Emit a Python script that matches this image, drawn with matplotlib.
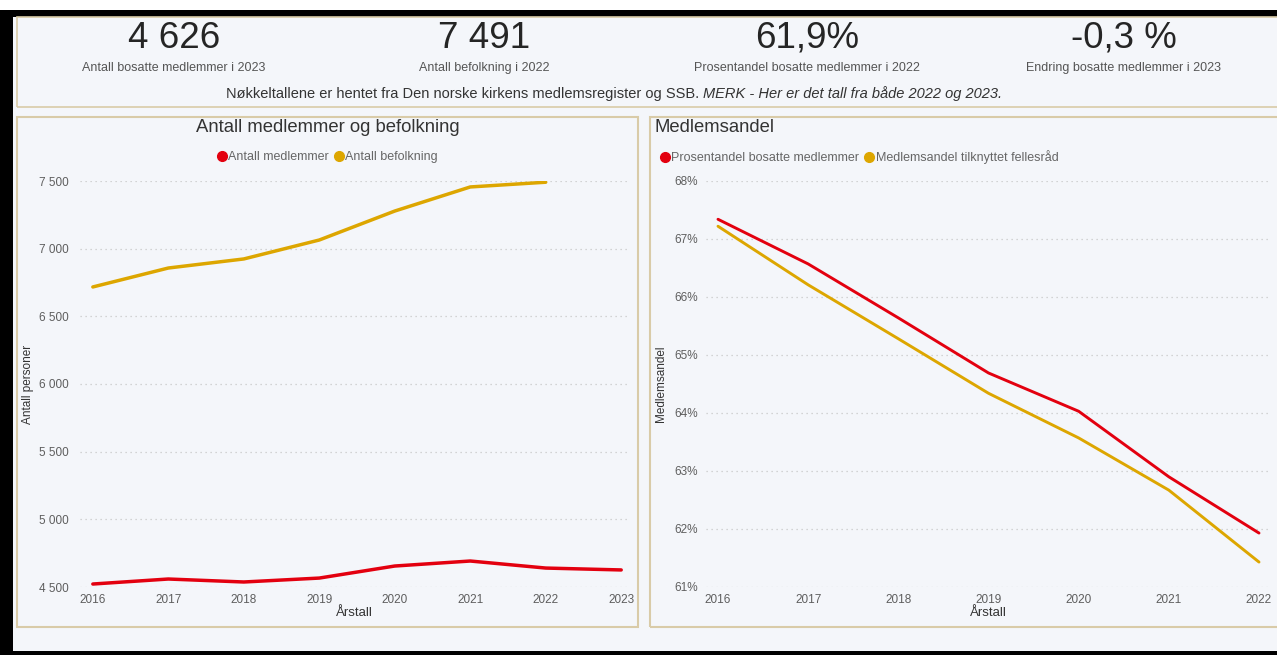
import matplotlib
matplotlib.use("Agg")
import matplotlib.pyplot as plt
from matplotlib.patches import Rectangle
from matplotlib.lines import Line2D

# ---------------- data ----------------
years_left = [2016, 2017, 2018, 2019, 2020, 2021, 2022, 2023]
medlemmer = [4522, 4559, 4537, 4566, 4655, 4692, 4640, 4626]
befolkning_years = [2016, 2017, 2018, 2019, 2020, 2021, 2022]
befolkning = [6717, 6857, 6924, 7064, 7278, 7456, 7491]
left_yticks = [4500, 5000, 5500, 6000, 6500, 7000, 7500]
left_yticklabels = ["4 500", "5 000", "5 500", "6 000", "6 500", "7 000", "7 500"]

years_right = [2016, 2017, 2018, 2019, 2020, 2021, 2022]
prosent_bosatte = [67.34, 66.57, 65.64, 64.69, 64.03, 62.90, 61.93]
andel_fellesrad = [67.22, 66.21, 65.28, 64.34, 63.57, 62.67, 61.43]
right_yticks = [61, 62, 63, 64, 65, 66, 67, 68]
right_yticklabels = ["61%", "62%", "63%", "64%", "65%", "66%", "67%", "68%"]

kpi_values = ["4 626", "7 491", "61,9%", "-0,3 %"]
kpi_labels = ["Antall bosatte medlemmer i 2023", "Antall befolkning i 2022",
              "Prosentandel bosatte medlemmer i 2022", "Endring bosatte medlemmer i 2023"]

# ---------------- style ----------------
W, H = 1277, 655
BG = "#F4F6FA"
RED = "#E3000F"
YEL = "#DDA600"
BORDER = "#D9CBA8"
TICK = "#5E5E5E"
DARK = "#333333"
plt.rcParams['font.family'] = ['Liberation Sans', 'DejaVu Sans']

fig = plt.figure(figsize=(W / 100, H / 100), dpi=100)
fig.patch.set_facecolor("white")


def fx(px):
    return px / W


def fy(py):
    return 1 - py / H


def rect(x0, y0, x1, y1, fc="none", ec="none", lw=1.0, z=0):
    fig.add_artist(Rectangle((fx(x0), fy(y1)), fx(x1) - fx(x0), (y1 - y0) / H,
                             transform=fig.transFigure, facecolor=fc, edgecolor=ec,
                             linewidth=lw, zorder=z))


# background and black frame
rect(0, 10, W, H, fc=BG)
rect(0, 10, W, 17, fc="black", z=1)
rect(0, 10, 13, H, fc="black", z=1)
rect(0, 651, W, H, fc="black", z=1)

# panels
rect(17, 17, 1290, 107, ec=BORDER, lw=1.2, z=2)
rect(17, 117, 638, 627, ec=BORDER, lw=1.5, z=2)
rect(650, 117, 1290, 627, ec=BORDER, lw=1.5, z=2)

# KPI cards
kpi_x = [174, 484, 807, 1124]
for x, v, lab in zip(kpi_x, kpi_values, kpi_labels):
    fig.text(fx(x), fy(38), v, ha="center", va="center", fontsize=26.5,
             color="#252525")
    fig.text(fx(x), fy(68), lab, ha="center", va="center", fontsize=9, color="#555555")

# subtitle with italic part
t1 = fig.text(fx(226), fy(94), "Nøkkeltallene er hentet fra Den norske kirkens medlemsregister og SSB. ",
              ha="left", va="center", fontsize=10.5, color=DARK)
fig.canvas.draw()
bb = t1.get_window_extent(renderer=fig.canvas.get_renderer())
fig.text(bb.x1 / W, fy(94), "MERK - Her er det tall fra både 2022 og 2023.",
         ha="left", va="center", fontsize=10.5, color=DARK, style="italic")


def style_axes(ax):
    ax.set_facecolor("none")
    for s in ax.spines.values():
        s.set_visible(False)
    ax.tick_params(length=0, colors=TICK, labelsize=8.5)
    ax.grid(axis="y", linestyle=(0, (1, 3)), color="#C8C8C8", linewidth=0.9)
    ax.set_axisbelow(True)


# ---------------- left chart ----------------
axL = fig.add_axes([fx(80), fy(587), fx(628) - fx(80), (587 - 181) / H])
style_axes(axL)
axL.plot(years_left, medlemmer, color=RED, lw=2.5, solid_capstyle="round")
axL.plot(befolkning_years, befolkning, color=YEL, lw=2.5, solid_capstyle="round")
axL.set_ylim(4500, 7500)
axL.set_xlim(2016 - 0.17, 2023 + 0.09)
axL.set_yticks(left_yticks)
axL.set_yticklabels(left_yticklabels)
axL.set_xticks(years_left)
axL.tick_params(axis="y", pad=8)
axL.tick_params(axis="x", pad=5)
axL.set_xlabel("Årstall", fontsize=9.5, color=DARK, labelpad=1)
fig.text(fx(28), fy(384), "Antall personer", rotation=90, ha="center", va="center",
         fontsize=8.5, color=DARK)
fig.text(fx(328), fy(128), "Antall medlemmer og befolkning", ha="center", va="center",
         fontsize=13.3, color=DARK)
hL = [Line2D([], [], ls="none", marker="o", ms=7, color=RED),
      Line2D([], [], ls="none", marker="o", ms=7, color=YEL)]
fig.legend(hL, ["Antall medlemmer", "Antall befolkning"], loc="center",
           bbox_to_anchor=(fx(328), fy(157)), ncol=2, frameon=False, fontsize=9,
           handlelength=0.6, handletextpad=0.2, columnspacing=0.5, labelcolor="#666666")

# ---------------- right chart ----------------
axR = fig.add_axes([fx(706), fy(587), fx(1270) - fx(706), (587 - 181) / H])
style_axes(axR)
axR.plot(years_right, prosent_bosatte, color=RED, lw=2.1, solid_capstyle="round")
axR.plot(years_right, andel_fellesrad, color=YEL, lw=2.1, solid_capstyle="round")
axR.set_ylim(61, 68)
axR.set_xlim(2016 - 0.133, 2022 + 0.122)
axR.set_yticks(right_yticks)
axR.set_yticklabels(right_yticklabels)
axR.set_xticks(years_right)
axR.tick_params(axis="y", pad=6)
axR.tick_params(axis="x", pad=5)
axR.set_xlabel("Årstall", fontsize=9.5, color=DARK, labelpad=1)
fig.text(fx(661), fy(384), "Medlemsandel", rotation=90, ha="center", va="center",
         fontsize=8.5, color=DARK)
fig.text(fx(655), fy(128), "Medlemsandel", ha="left", va="center", fontsize=13.3, color=DARK)
hR = [Line2D([], [], ls="none", marker="o", ms=7, color=RED),
      Line2D([], [], ls="none", marker="o", ms=7, color=YEL)]
fig.legend(hR, ["Prosentandel bosatte medlemmer", "Medlemsandel tilknyttet fellesråd"],
           loc="center left", bbox_to_anchor=(fx(650), fy(157)), ncol=2, frameon=False,
           fontsize=9, handlelength=0.6, handletextpad=0.2, columnspacing=0.5,
           labelcolor="#666666")

fig.savefig("out.png", dpi=100, facecolor=fig.get_facecolor())
